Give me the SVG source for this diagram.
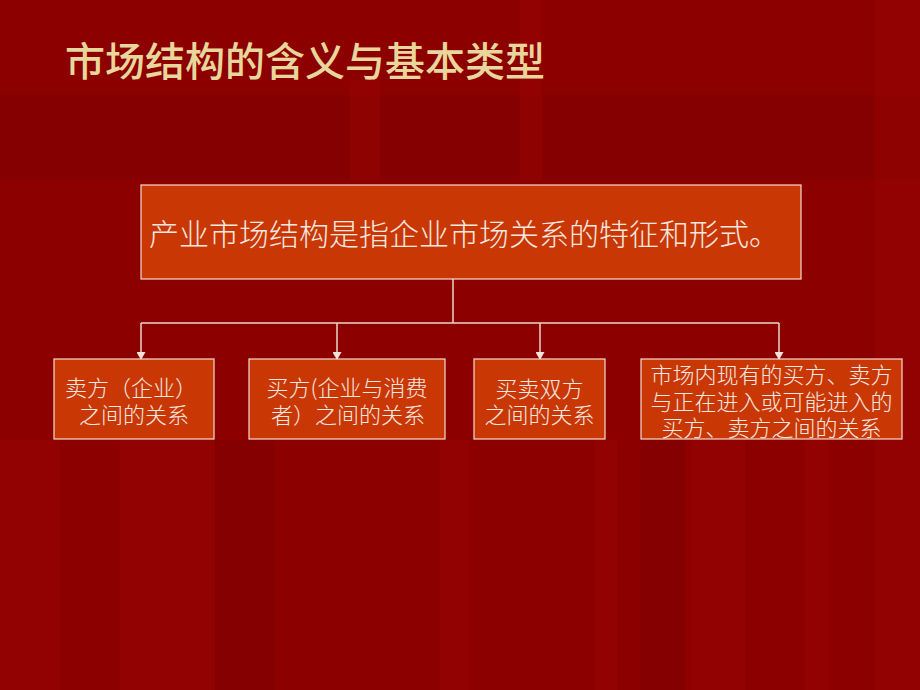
<svg xmlns="http://www.w3.org/2000/svg" width="920" height="690" viewBox="0 0 920 690">
  <defs>
    <style>
      .bg { fill: #8C0000; }
      .band-l { fill: #A00606; opacity: 0.35; }
      .band-d { fill: #780000; opacity: 0.35; }
      .title { font-family: "Noto Sans CJK SC", "Noto Sans", sans-serif; font-size: 40px; font-weight: 500; fill: #E8D69C; }
      .box { fill: #C93804; stroke: #F2DCD2; stroke-width: 1.2; }
      .main-text { font-family: "Noto Sans CJK SC", "Noto Sans", sans-serif; font-size: 30px; font-weight: 300; fill: #F6E8E0; }
      .sub-text { font-family: "Noto Sans CJK SC", "Noto Sans", sans-serif; font-size: 22px; font-weight: 300; fill: #F6E8E0; text-anchor: middle; }
      .conn { fill: none; stroke: #EAD4CC; stroke-width: 1.5; }
    </style>
    <marker id="arrow" markerWidth="8" markerHeight="9" refX="7" refY="4.5" orient="auto" markerUnits="userSpaceOnUse">
      <path d="M0,0 L8,4.5 L0,9 Z" fill="#F2E2DA"/>
    </marker>
  </defs>

  <g id="background">
    <rect class="bg" x="0" y="0" width="920" height="690"/>
    <rect class="band-d" x="0" y="95" width="920" height="85"/>
    <rect class="band-l" x="0" y="440" width="60" height="250"/>
    <rect class="band-l" x="120" y="440" width="95" height="250"/>
    <rect class="band-l" x="350" y="80" width="30" height="100"/>
    <rect class="band-l" x="440" y="440" width="30" height="250"/>
    <rect class="band-l" x="520" y="0" width="22" height="180"/>
    <rect class="band-l" x="595" y="440" width="22" height="250"/>
    <rect class="band-l" x="690" y="440" width="55" height="250"/>
    <rect class="band-l" x="805" y="440" width="25" height="250"/>
    <rect class="band-l" x="875" y="0" width="45" height="690"/>
    <rect class="band-d" x="215" y="440" width="60" height="250"/>
    <rect class="band-d" x="640" y="440" width="45" height="250"/>
  </g>

  <g id="title">
    <text class="title" x="65" y="76">市场结构的含义与基本类型</text>
  </g>

  <g id="connectors">
    <path class="conn" d="M453,279 L453,323"/>
    <path class="conn" d="M141,323 L779,323"/>
    <path class="conn" d="M141,323 L141,359" marker-end="url(#arrow)"/>
    <path class="conn" d="M337,323 L337,359" marker-end="url(#arrow)"/>
    <path class="conn" d="M540,323 L540,359" marker-end="url(#arrow)"/>
    <path class="conn" d="M779,323 L779,359" marker-end="url(#arrow)"/>
  </g>

  <g id="node-main">
    <rect class="box" x="141" y="185" width="660" height="94"/>
    <text class="main-text" x="149" y="245">产业市场结构是指企业市场关系的特征和形式。</text>
  </g>

  <g id="node-sellers">
    <rect class="box" x="54" y="359" width="160" height="80"/>
    <text class="sub-text" x="131" y="396">卖方（企业）</text>
    <text class="sub-text" x="134" y="423">之间的关系</text>
  </g>

  <g id="node-buyers">
    <rect class="box" x="249" y="359" width="196" height="80"/>
    <text class="sub-text" x="347" y="396">买方(企业与消费</text>
    <text class="sub-text" x="348" y="423">者）之间的关系</text>
  </g>

  <g id="node-both">
    <rect class="box" x="474" y="359" width="131" height="80"/>
    <text class="sub-text" x="539.5" y="397">买卖双方</text>
    <text class="sub-text" x="539.5" y="423">之间的关系</text>
  </g>

  <g id="node-entrants">
    <rect class="box" x="641" y="359" width="261" height="80"/>
    <text class="sub-text" x="771.5" y="383">市场内现有的买方、卖方</text>
    <text class="sub-text" x="771.5" y="409.5">与正在进入或可能进入的</text>
    <text class="sub-text" x="771.5" y="436">买方、卖方之间的关系</text>
  </g>
</svg>
